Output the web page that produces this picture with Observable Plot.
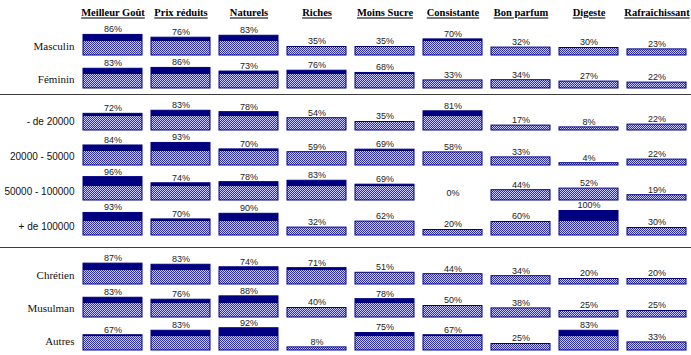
<!DOCTYPE html>
<html><head><meta charset="utf-8">
<script src="https://cdn.jsdelivr.net/npm/d3@7"></script>
<script src="https://cdn.jsdelivr.net/npm/@observablehq/plot@0.6"></script>
<style>
body{margin:0;background:#fff;width:691px;height:355px;overflow:hidden}
.sep{height:1px;background:#3c3c3c;width:691px}
#chart svg{display:block;overflow:visible}
</style></head><body>
<svg width="0" height="0" style="position:absolute"><defs>
<pattern id="chk" width="2" height="2" patternUnits="userSpaceOnUse">
<rect width="2" height="2" fill="#cacaff"/><rect width="1" height="1" fill="#2e2eae"/><rect x="1" y="1" width="1" height="1" fill="#2e2eae"/>
</pattern></defs></svg>
<div id="chart"></div>
<script>
const criteria = ["Meilleur Goût","Prix réduits","Naturels","Riches","Moins Sucre","Consistante","Bon parfum","Digeste","Rafraîchissant"];
const rowsGenre = ["Masculin","Féminin"];
const rowsRevenu = ["- de 20000","20000 - 50000","50000 - 100000","+ de 100000"];
const rowsReligion = ["Chrétien","Musulman","Autres"];
const valMasculin   = [86,76,83,35,35,70,32,30,23];
const valFeminin    = [83,86,73,76,68,33,34,27,22];
const valMoins20000 = [72,83,78,54,35,81,17,8,22];
const val20000_50000 = [84,93,70,59,69,58,33,4,22];
const val50000_100000 = [96,74,78,83,69,0,44,52,19];
const valPlus100000 = [93,70,90,32,62,20,60,100,30];
const valChretien = [87,83,74,71,51,44,34,20,20];
const valMusulman = [83,76,88,40,78,50,38,25,25];
const valAutres   = [67,83,92,8,75,67,25,83,33];

// styling constants: base thickness (px), hatched cap (value), px per unit below/above the cap
const BASE = 1.5, T = 62.5, LOWPX = 12.5, HIPX = 0.28;
const NAVY = "#000080";
const yTransform = v => v <= T ? v * LOWPX / T : LOWPX + (v - T) * HIPX;

function groupPlot(rows, vals, o) {
  const data = [];
  rows.forEach((r, i) => criteria.forEach((c, j) => data.push({row: r, col: c, v: vals[i][j]})));
  const band = (o.height - o.top - o.bottom) / rows.length;
  const marks = [
    Plot.barY(data.filter(d => d.v > 0), {x: "col", y1: 0, y2: d => Math.min(d.v, T), fy: "row", fill: "url(#chk)", insetBottom: -BASE}),
    Plot.barY(data.filter(d => d.v > T), {x: "col", y1: T, y2: "v", fy: "row", fill: NAVY}),
    Plot.barY(data.filter(d => d.v > 0), {x: "col", y1: 0, y2: "v", fy: "row", fill: "none", stroke: NAVY, strokeWidth: 1, insetBottom: -BASE}),
    Plot.text(data, {x: "col", y: "v", fy: "row", text: d => d.v + "%", dy: -5.5, fontSize: 9, fontFamily: "Liberation Sans", fill: "#222"}),
    Plot.text(rows, {fy: d => d, text: d => d, frameAnchor: "bottom-left", textAnchor: "end", dx: -6, dy: -6,
      fontSize: o.labelSize, fontFamily: o.labelFont, fill: "#111"})
  ];
  if (o.header) {
    marks.push(Plot.text(criteria, {x: d => d, fy: () => rows[0], text: d => d, frameAnchor: "top", dy: -13.5,
      fontSize: 10.5, fontWeight: "bold", fontFamily: "Liberation Serif", fill: "#000"}));
  }
  const svg = Plot.plot({
    width: 691, height: o.height,
    marginLeft: 80, marginRight: 2, marginTop: o.top, marginBottom: o.bottom,
    x: {domain: criteria, paddingInner: 0.133, paddingOuter: 0, round: true, axis: null},
    y: {transform: yTransform, domain: [0, band - BASE], axis: null, insetBottom: BASE},
    fy: {domain: rows, padding: 0, axis: null, label: null},
    style: {background: "transparent"},
    marks
  });
  if (o.header) {
    svg.querySelectorAll("text").forEach(t => {
      if (criteria.includes(t.textContent)) t.setAttribute("text-decoration", "underline");
    });
  }
  return svg;
}

const chart = document.getElementById("chart");
chart.append(groupPlot(rowsGenre, [valMasculin, valFeminin], {height: 94, top: 22, bottom: 6, header: true, labelFont: "Liberation Serif", labelSize: 11}));
const s1 = document.createElement("div"); s1.className = "sep"; chart.append(s1);
chart.append(groupPlot(rowsRevenu, [valMoins20000, val20000_50000, val50000_100000, valPlus100000], {height: 152, top: 0, bottom: 12, labelFont: "Liberation Sans", labelSize: 10}));
const s2 = document.createElement("div"); s2.className = "sep"; chart.append(s2);
chart.append(groupPlot(rowsReligion, [valChretien, valMusulman, valAutres], {height: 107, top: 3, bottom: 5, labelFont: "Liberation Serif", labelSize: 11}));
</script>
</body></html>
